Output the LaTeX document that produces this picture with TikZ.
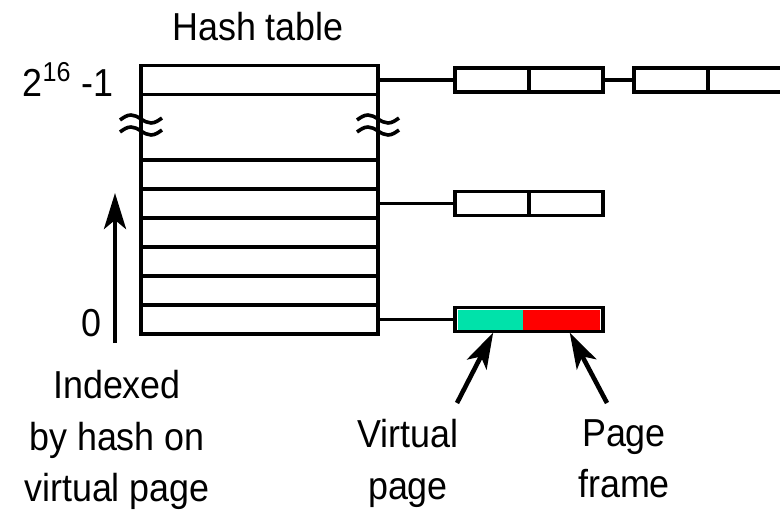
\documentclass[tikz,border=0pt]{standalone}
\usepackage{fontspec}
\setmainfont{Liberation Sans}[FakeStretch=0.92]
\usetikzlibrary{arrows.meta, positioning}
\definecolor{vpgreen}{RGB}{0,226,170}
\definecolor{pfred}{RGB}{255,0,0}

\begin{document}
\begin{tikzpicture}[
  x=0.5pt, y=-0.5pt,
  every node/.style={font=\fontsize{19.5}{25.75}\selectfont},
  slot/.style={rectangle, draw, line width=1.8pt, minimum width=118.5pt,
               minimum height=14.5pt, inner sep=0pt, outer sep=0pt},
  cell/.style={rectangle, draw, line width=1.8pt, minimum width=37pt,
               minimum height=12pt, inner sep=0pt, outer sep=0pt},
  half/.style={rectangle, inner sep=0pt, outer sep=0pt, minimum height=10pt},
  link/.style={line width=1.8pt},
  txt/.style={align=center, inner sep=0pt},
  pointer/.style={-{Stealth[length=18pt, width=11pt, inset=4.5pt]}, line width=2.3pt},
  brk/.pic={\draw[line width=1.8pt] (-21,1) sin (-10,-4) cos (0,0) sin (10,4) cos (21,-1);}
]
  \useasboundingbox (0,0) rectangle (780,513);

  % hash table: top slot, then the lower slots
  \node[slot] (top) at (259.5,80) {};
  \foreach \i in {1,...,6}
    \node[slot] (r\i) at (259.5,{145.5+29*\i}) {};
  \draw[link] (top.south west) -- (r1.north west);
  \draw[link] (top.south east) -- (r1.north east);
  \pic at (141,119) {brk};
  \pic at (141,131) {brk};
  \pic at (378,119) {brk};
  \pic at (378,131) {brk};

  % chains hanging off the slots
  \node[cell, right=38.5pt of top] (a1) {};
  \node[cell, right=0pt of a1]     (a2) {};
  \node[cell, right=15.5pt of a2]  (a3) {};
  \node[cell, right=0pt of a3]     (a4) {};
  \draw[link] (top) -- (a1);
  \draw[link] (a2) -- (a3);

  \node[cell, right=38.5pt of r2] (b1) {};
  \node[cell, right=0pt of b1]    (b2) {};
  \draw[link] (r2) -- (b1);

  \node[cell, minimum width=74pt, right=38.5pt of r6] (c0) {};
  \node[half, fill=vpgreen, minimum width=32.5pt, right=1.6pt of c0.west] (c1) {};
  \node[half, fill=pfred, minimum width=38.5pt, right=0pt of c1] (c2) {};
  \draw[link] (r6) -- (c0);

  % labels
  \node[txt, anchor=base] (title) at (258,41) {Hash table};
  \node[txt, anchor=base] (hi) at (68,97) {2\textsuperscript{16} -1};
  \node[txt, anchor=base] (lo) at (91,336) {0};
  \node[txt, anchor=north] (idx) at (117,370) {Indexed\\by hash on\\virtual page};
  \node[txt, anchor=north] (vp) at (408,419) {Virtual\\page};
  \node[txt, anchor=north] (pf) at (624,419) {Page\\frame};

  % arrows
  \coordinate (up0) at (115,343);
  \coordinate (up1) at (115,193);
  \draw[pointer] (up0) -- (up1);
  \coordinate (vtail) at (457,403);
  \coordinate (ftail) at (607,403);
  \draw[pointer] (vtail) -- ([xshift=1.25pt, yshift=-1.5pt]c1.south);
  \draw[pointer] (ftail) -- ([xshift=4pt, yshift=-1.5pt]c2.south);
\end{tikzpicture}
\end{document}
